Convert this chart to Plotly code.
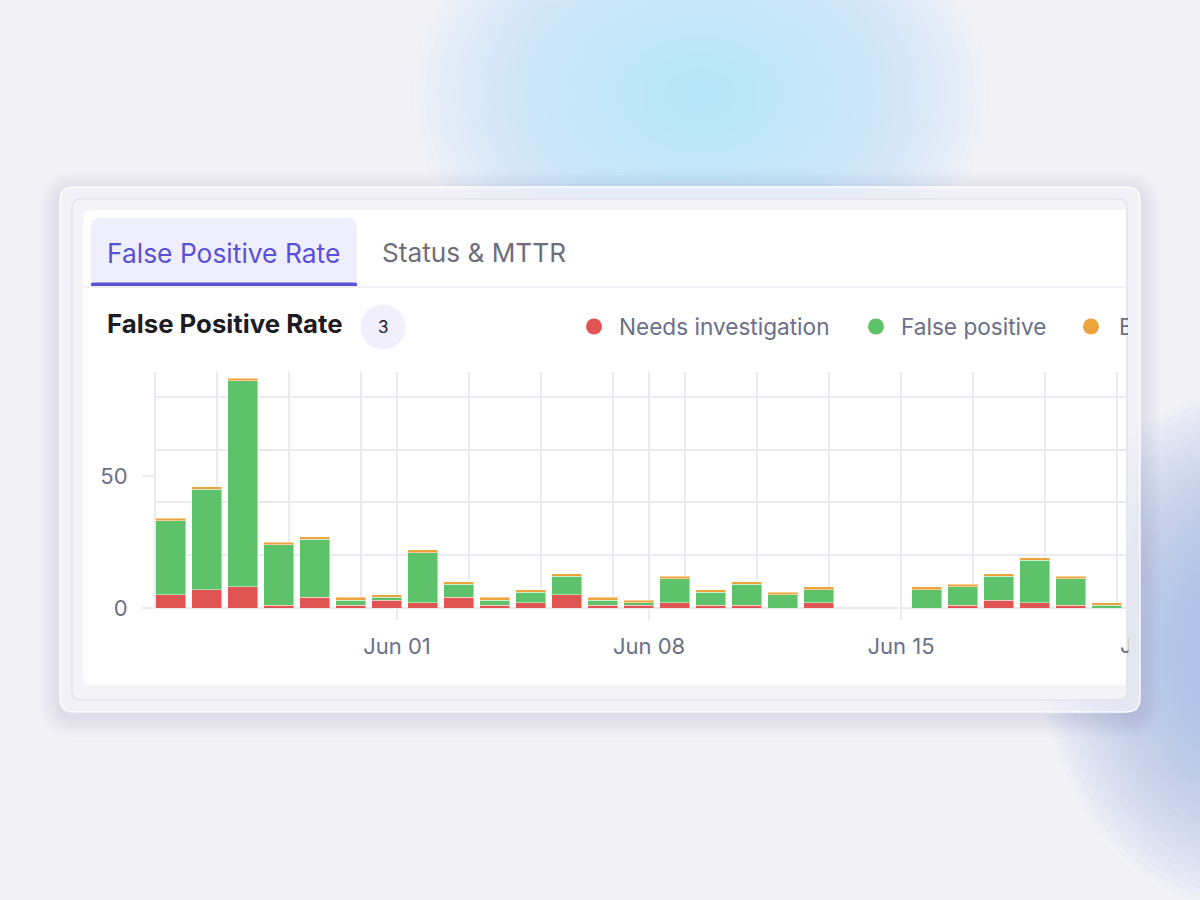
import pandas as pd
import plotly.graph_objects as go

# ---------------- data ----------------
dates = ["2025-05-26", "2025-05-27", "2025-05-28", "2025-05-29", "2025-05-30", "2025-05-31",
         "2025-06-01", "2025-06-02", "2025-06-03", "2025-06-04", "2025-06-05", "2025-06-06",
         "2025-06-07", "2025-06-08", "2025-06-09", "2025-06-10", "2025-06-11", "2025-06-12",
         "2025-06-13", "2025-06-14", "2025-06-15", "2025-06-16", "2025-06-17", "2025-06-18",
         "2025-06-19", "2025-06-20", "2025-06-21"]
needs_investigation = [5, 7, 8, 1, 4, 1, 3, 2, 4, 1, 2, 5, 1, 1, 2, 1, 1, 0, 2, 0, 0, 0, 1, 3, 2, 1, 0]
false_positive = [28, 38, 78, 23, 22, 2, 1, 19, 5, 2, 4, 7, 2, 1, 9, 5, 8, 5, 5, 0, 0, 7, 7, 9, 16, 10, 1]
benign = [1, 1, 1, 1, 1, 1, 1, 1, 1, 1, 1, 1, 1, 1, 1, 1, 1, 1, 1, 0, 0, 1, 1, 1, 1, 1, 1]
series_names = ["Needs investigation", "False positive", "Benign"]
series_colors = ["#e05452", "#5ec26a", "#eea43c"]
y_tick_values = [0, 50]
y_grid_values = [20, 40, 60, 80]
x_tick_start = "2025-06-01"
next_tick_label = "Jun 22"
tab_labels = ["False Positive Rate", "Status & MTTR"]
chart_title = "False Positive Rate"
badge_count = "3"
utc_offset_hours = -7

# ---------------- geometry helpers ----------------
W, H = 1200, 900
FONT = "Inter"
GRID = "#ebe9f2"
TICK_TXT = "#6b6f88"


def px(x):
    return x / W


def py(y):
    return 1 - y / H


def rrect(x0, y0, x1, y1, r_tl, r_tr, r_br, r_bl):
    P = lambda x, y: f"{px(x):.6f},{py(y):.6f}"
    return (f"M {P(x0 + r_tl, y0)} L {P(x1 - r_tr, y0)} Q {P(x1, y0)} {P(x1, y0 + r_tr)} "
            f"L {P(x1, y1 - r_br)} Q {P(x1, y1)} {P(x1 - r_br, y1)} "
            f"L {P(x0 + r_bl, y1)} Q {P(x0, y1)} {P(x0, y1 - r_bl)} "
            f"L {P(x0, y0 + r_tl)} Q {P(x0, y0)} {P(x0 + r_tl, y0)} Z")


shapes = []


def glow(cx, cy, rx, ry, rgb, n=40, a=0.04):
    for i in range(n, 0, -1):
        s = i / n
        shapes.append(dict(type="circle", xref="paper", yref="paper", layer="below",
                           x0=px(cx - rx * s), x1=px(cx + rx * s),
                           y0=py(cy + ry * s), y1=py(cy - ry * s),
                           fillcolor=f"rgba({rgb[0]},{rgb[1]},{rgb[2]},{a})",
                           line=dict(width=0)))


# background glows
glow(700, 95, 290, 215, (168, 224, 247), n=40, a=0.04)
glow(1250, 650, 210, 260, (155, 190, 242), n=40, a=0.042)
glow(900, 750, 270, 75, (214, 214, 247), n=30, a=0.012)

# card shadow
for i in range(7):
    d = 2 + i * 3
    shapes.append(dict(type="path", xref="paper", yref="paper", layer="below",
                       path=rrect(60 - d, 187 - d + 5, 1140 + d, 712 + d + 5, 14 + d, 14 + d, 14 + d, 14 + d),
                       fillcolor="rgba(70,70,110,0.014)", line=dict(width=0)))

# outer card
shapes.append(dict(type="path", xref="paper", yref="paper", layer="below",
                   path=rrect(60, 187, 1140, 712, 14, 14, 14, 14),
                   fillcolor="rgba(252,251,254,0.68)", line=dict(color="rgba(255,255,255,0.9)", width=1.5)))
# inner panel
shapes.append(dict(type="path", xref="paper", yref="paper", layer="below",
                   path=rrect(72, 199, 1127, 700, 8, 8, 8, 8),
                   fillcolor="#f4f3f8", line=dict(color="#e3e2ea", width=1.5)))
# white content
shapes.append(dict(type="path", xref="paper", yref="paper", layer="below",
                   path=rrect(83, 210, 1126, 685, 9, 0, 0, 9),
                   fillcolor="#ffffff", line=dict(width=0)))
# active tab
shapes.append(dict(type="path", xref="paper", yref="paper", layer="below",
                   path=rrect(91, 218, 357, 286, 9, 9, 0, 0),
                   fillcolor="#efeefc", line=dict(width=0)))
# separator line
shapes.append(dict(type="rect", xref="paper", yref="paper", layer="below",
                   x0=px(83), x1=px(1126), y0=py(288), y1=py(286),
                   fillcolor="#f1f0f6", line=dict(width=0)))
# tab underline
shapes.append(dict(type="path", xref="paper", yref="paper", layer="below",
                   path=rrect(91, 282.5, 357, 286, 1.5, 1.5, 0, 0),
                   fillcolor="#5b53dc", line=dict(width=0)))
# badge
shapes.append(dict(type="circle", xref="paper", yref="paper", layer="below",
                   x0=px(383 - 22.5), x1=px(383 + 22.5), y0=py(327 + 22.5), y1=py(327 - 22.5),
                   fillcolor="#f0effb", line=dict(width=0)))

annotations = []


def text(x, y, s, size, color, weight=400, xanchor="left", width=None):
    d = dict(xref="paper", yref="paper", x=px(x), y=py(y), text=s, showarrow=False,
             xanchor=xanchor, yanchor="middle", align="left", borderpad=0,
             font=dict(family=FONT, size=size, color=color, weight=weight))
    if width is not None:
        d["width"] = width
    annotations.append(d)


text(106, 252.5, tab_labels[0], 26.4, "#5a50d8")
text(381, 252.5, tab_labels[1], 26.2, "#6e6e7b")
text(106, 323.5, chart_title, 25.8, "#1c1c22", weight=700)
text(383, 327, badge_count, 17, "#202028", xanchor="center")

# legend (manual, clipped by the card edge)
legend_pos = [(594, 618), (876, 900), (1091, 1118)]
for (dot_x, txt_x), name, col in zip(legend_pos, series_names, series_colors):
    shapes.append(dict(type="circle", xref="paper", yref="paper", layer="below",
                       x0=px(dot_x - 8), x1=px(dot_x + 8), y0=py(326.5 + 8), y1=py(326.5 - 8),
                       fillcolor=col, line=dict(width=0)))
    width = 9 if txt_x > 1100 else None
    text(txt_x, 326.5, name, 22.6, "#6b6f88", width=width)

# partially visible next tick label (clipped by card edge)
text(1118.5, 645, next_tick_label, 22, TICK_TXT, width=8.5)

# ---------------- traces ----------------
x_vals = pd.to_datetime(dates) + pd.Timedelta(hours=utc_offset_hours)
fig = go.Figure()
for name, vals, col in zip(series_names, [needs_investigation, false_positive, benign], series_colors):
    fig.add_trace(go.Bar(x=x_vals, y=vals, name=name, marker=dict(color=col,
                         line=dict(color="rgba(255,255,255,0.45)", width=1)),
                         showlegend=False))

# axes geometry (pixels)
PLOT_L, PLOT_R, PLOT_T, PLOT_B = 156, 1127, 372, 608
JUN01_PX, DAY_PX = 397, 36.0
ref = pd.Timestamp(x_tick_start)
x0 = ref - pd.Timedelta(days=(JUN01_PX - PLOT_L) / DAY_PX)
x1 = ref + pd.Timedelta(days=(PLOT_R - JUN01_PX) / DAY_PX)
minor_days = [d for d in pd.date_range(x0.normalize(), x1.normalize()) if d.day % 2 == 1]
y_top = (PLOT_B - PLOT_T) / ((PLOT_B - 476) / 50)

fig.update_layout(
    width=W, height=H, autosize=False,
    margin=dict(l=0, r=0, t=0, b=0, pad=0),
    paper_bgcolor="#f3f2f7", plot_bgcolor="rgba(0,0,0,0)",
    barmode="stack", bargap=1 / 6, showlegend=False,
    font=dict(family=FONT, size=22, color=TICK_TXT),
    shapes=shapes, annotations=annotations,
    xaxis=dict(domain=[px(PLOT_L), px(PLOT_R)], type="date",
               range=[x0.strftime("%Y-%m-%d %H:%M:%S"), x1.strftime("%Y-%m-%d %H:%M:%S")],
               tick0=x_tick_start, dtick=7 * 86400000, tickformat="%b %d",
               showgrid=True, gridcolor=GRID, gridwidth=2,
               ticks="outside", ticklen=11, tickwidth=2, tickcolor=GRID,
               ticklabelstandoff=8, automargin=False,
               tickfont=dict(family=FONT, size=22, color=TICK_TXT),
               minor=dict(tickmode="array", tickvals=[d.strftime("%Y-%m-%d") for d in minor_days],
                          showgrid=True, gridcolor=GRID, gridwidth=2, ticks=""),
               showline=False, zeroline=False, fixedrange=True),
    yaxis=dict(domain=[py(PLOT_B), py(PLOT_T)], range=[0, y_top],
               tickmode="array", tickvals=y_tick_values,
               showgrid=False, zeroline=True, zerolinecolor=GRID, zerolinewidth=2,
               showline=True, linecolor=GRID, linewidth=2,
               ticks="outside", ticklen=12, tickwidth=2, tickcolor=GRID,
               ticklabelstandoff=10, automargin=False,
               tickfont=dict(family=FONT, size=22, color=TICK_TXT),
               minor=dict(tickmode="array", tickvals=y_grid_values, showgrid=True,
                          gridcolor=GRID, gridwidth=2, ticks=""),
               fixedrange=True),
)

page_fix = (
    "var d=document.documentElement,b=document.body;"
    "[d,b].forEach(function(e){e.style.margin='0';e.style.padding='0';"
    "e.style.height='900px';e.style.width='1200px';e.style.overflow='hidden';});"
    "b.style.background='#f3f2f7';"
)
fig.write_html("out.html", config={"displayModeBar": False}, post_script=page_fix)
